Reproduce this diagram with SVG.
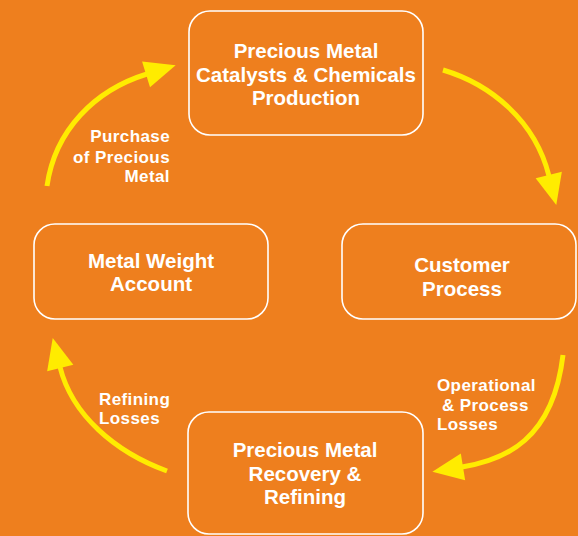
<svg xmlns="http://www.w3.org/2000/svg" width="578" height="536" viewBox="0 0 578 536">
<defs>
<style>
.box{fill:none;stroke:#ffffff;stroke-width:1.6}
.nt{font-family:"Liberation Sans",Arial,sans-serif;font-weight:bold;font-size:20.5px;fill:#ffffff;text-anchor:middle}
.lb{font-family:"Liberation Sans",Arial,sans-serif;font-weight:bold;font-size:17px;letter-spacing:0.4px;fill:#ffffff}
.ar{fill:none;stroke:#ffec00;stroke-width:5;marker-end:url(#head)}
</style>
<marker id="head" markerUnits="userSpaceOnUse" markerWidth="32" markerHeight="27" refX="1" refY="13.5" orient="auto" overflow="visible">
<path d="M0,0 L31,13.5 L0,27 Z" fill="#ffec00"/>
</marker>
</defs>
<rect width="578" height="536" fill="#ee7f1e"/>
<g id="connectors">
<path class="ar" d="M47,186 C55,130 95,90 147,74"/>
<path class="ar" d="M443,70 C490,84 535,120 549,176"/>
<path class="ar" d="M563,355 C553,440 505,460 462,467"/>
<path class="ar" d="M167,471 C115,452 72,415 60,367"/>
</g>
<g id="labels">
<text class="lb" text-anchor="end" x="170" y="142">Purchase</text>
<text class="lb" text-anchor="end" x="170" y="163">of Precious</text>
<text class="lb" text-anchor="end" x="170" y="182">Metal</text>
<text class="lb" x="99" y="405">Refining</text>
<text class="lb" x="99" y="424">Losses</text>
<text class="lb" x="437" y="391">Operational</text>
<text class="lb" x="442" y="411">&amp; Process</text>
<text class="lb" x="437" y="430">Losses</text>
</g>
<g id="node-production">
<rect class="box" x="189" y="11" width="234" height="124" rx="21"/>
<text class="nt" x="306" y="58">Precious Metal</text>
<text class="nt" x="306" y="82">Catalysts &amp; Chemicals</text>
<text class="nt" x="306" y="105">Production</text>
</g>
<g id="node-account">
<rect class="box" x="34" y="224" width="234" height="95" rx="21"/>
<text class="nt" x="151" y="268">Metal Weight</text>
<text class="nt" x="151" y="291">Account</text>
</g>
<g id="node-customer">
<rect class="box" x="342" y="224" width="234" height="95" rx="21"/>
<text class="nt" x="462" y="272">Customer</text>
<text class="nt" x="462" y="296">Process</text>
</g>
<g id="node-recovery">
<rect class="box" x="188" y="412" width="235" height="122" rx="21"/>
<text class="nt" x="305" y="457">Precious Metal</text>
<text class="nt" x="305" y="481">Recovery &amp;</text>
<text class="nt" x="305" y="504">Refining</text>
</g>
</svg>
